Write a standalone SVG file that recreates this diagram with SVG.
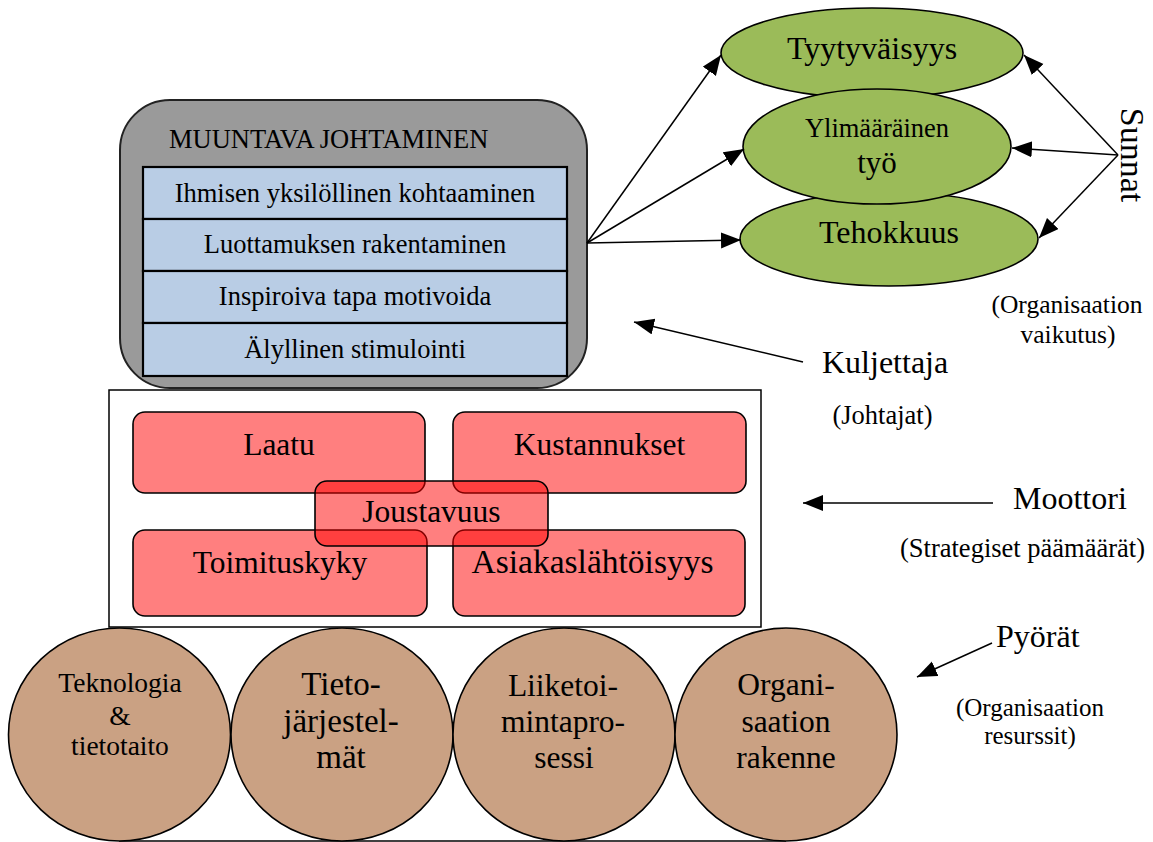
<svg xmlns="http://www.w3.org/2000/svg" width="1153" height="842" viewBox="0 0 1153 842">
  <defs>
    <marker id="head" markerUnits="userSpaceOnUse" markerWidth="22" markerHeight="18" refX="20" refY="8" orient="auto">
      <path d="M0,0 L20,8 L0,16 z" fill="#000"/>
    </marker>
    <style>
      text { font-family: "Liberation Serif", "Times New Roman", serif; fill: #000; }
      .c { text-anchor: middle; }
      .lead { fill: #9a9a9a; stroke: #222; stroke-width: 2; }
      .row { fill: #b9cde5; stroke: #000; stroke-width: 2.2; }
      .goal { fill: #9bbb59; stroke: #000; stroke-width: 1.6; }
      .frame { fill: #fff; stroke: #000; stroke-width: 1.5; }
      .aim { fill: #ff0000; fill-opacity: 0.5; stroke: #000; stroke-width: 1.6; }
      .wheel { fill: #caa183; stroke: #000; stroke-width: 1.6; }
      .conn { stroke: #000; stroke-width: 1.5; fill: none; marker-end: url(#head); }
    </style>
  </defs>

  <!-- Leadership block -->
  <g id="muuntava-johtaminen">
    <rect class="lead" x="120" y="100" width="467" height="288" rx="50"/>
    <text x="169" y="148" font-size="26.5">MUUNTAVA JOHTAMINEN</text>
    <rect class="row" x="143" y="167" width="424" height="52"/>
    <rect class="row" x="143" y="219" width="424" height="52"/>
    <rect class="row" x="143" y="271" width="424" height="52"/>
    <rect class="row" x="143" y="323" width="424" height="53"/>
    <text class="c" x="355" y="202" font-size="26.5">Ihmisen yksilöllinen kohtaaminen</text>
    <text class="c" x="355" y="253" font-size="26.5">Luottamuksen rakentaminen</text>
    <text class="c" x="355" y="305" font-size="26.5">Inspiroiva tapa motivoida</text>
    <text class="c" x="355" y="358" font-size="26.5">Älyllinen stimulointi</text>
  </g>

  <!-- Outcomes -->
  <g id="tyytyvaisyys">
    <ellipse class="goal" cx="872" cy="53" rx="151" ry="45"/>
    <text class="c" x="872" y="59" font-size="32">Tyytyväisyys</text>
  </g>
  <g id="tehokkuus">
    <ellipse class="goal" cx="889" cy="239" rx="149" ry="47"/>
    <text class="c" x="889" y="243" font-size="32">Tehokkuus</text>
  </g>
  <g id="ylimaarainen-tyo">
    <ellipse class="goal" cx="877" cy="146.5" rx="134" ry="57.5"/>
    <text class="c" x="877" y="137" font-size="26.5">Ylimääräinen</text>
    <text class="c" x="877" y="173" font-size="31">työ</text>
  </g>

  <!-- Strategic goals -->
  <g id="strategiset-tavoitteet">
    <rect class="frame" x="109" y="390" width="652" height="237"/>
    <g id="laatu">
      <rect class="aim" x="133" y="412" width="292" height="81" rx="12"/>
      <text class="c" x="279" y="455" font-size="31.5">Laatu</text>
    </g>
    <g id="kustannukset">
      <rect class="aim" x="453" y="412" width="293" height="81" rx="12"/>
      <text class="c" x="599.5" y="455" font-size="31.5">Kustannukset</text>
    </g>
    <g id="toimituskyky">
      <rect class="aim" x="133" y="530" width="294" height="86" rx="12"/>
      <text class="c" x="280" y="573" font-size="31.5">Toimituskyky</text>
    </g>
    <g id="asiakaslahtoisyys">
      <rect class="aim" x="453" y="530" width="292" height="86" rx="12"/>
      <text class="c" x="592.5" y="573" font-size="33.5">Asiakaslähtöisyys</text>
    </g>
    <g id="joustavuus">
      <rect class="aim" x="315" y="481" width="233" height="65" rx="12"/>
      <text class="c" x="431.5" y="522" font-size="31.5">Joustavuus</text>
    </g>
  </g>

  <!-- Resources (wheels) -->
  <line x1="119" y1="841" x2="786" y2="841" stroke="#000" stroke-width="1.5"/>
  <g id="teknologia">
    <ellipse class="wheel" cx="119.5" cy="734.5" rx="111" ry="106.5"/>
    <text class="c" x="120" y="692" font-size="27.5">Teknologia</text>
    <text class="c" x="120" y="725" font-size="27.5">&amp;</text>
    <text class="c" x="120" y="755" font-size="27.5">tietotaito</text>
  </g>
  <g id="tietojarjestelmat">
    <ellipse class="wheel" cx="342" cy="734.5" rx="111" ry="106.5"/>
    <text class="c" x="341" y="695" font-size="33">Tieto-</text>
    <text class="c" x="341" y="732" font-size="33">järjestel-</text>
    <text class="c" x="341" y="768" font-size="33">mät</text>
  </g>
  <g id="liiketoimintaprosessi">
    <ellipse class="wheel" cx="564" cy="734.5" rx="111" ry="106.5"/>
    <text class="c" x="563" y="696" font-size="31.5">Liiketoi-</text>
    <text class="c" x="563" y="732" font-size="31.5">mintapro-</text>
    <text class="c" x="564" y="768" font-size="31.5">sessi</text>
  </g>
  <g id="organisaation-rakenne">
    <ellipse class="wheel" cx="786" cy="734.5" rx="111" ry="106.5"/>
    <text class="c" x="786" y="695" font-size="31.5">Organi-</text>
    <text class="c" x="786" y="732" font-size="31.5">saation</text>
    <text class="c" x="786" y="768" font-size="31.5">rakenne</text>
  </g>

  <!-- Side labels -->
  <g id="sunnat">
    <text class="c" transform="translate(1121,155) rotate(90)" font-size="34">Sunnat</text>
    <text class="c" x="1067" y="313" font-size="25.5">(Organisaation</text>
    <text class="c" x="1068" y="343" font-size="25.5">vaikutus)</text>
  </g>
  <g id="kuljettaja">
    <text x="822" y="373" font-size="32">Kuljettaja</text>
    <text class="c" x="882.5" y="424" font-size="26.5">(Johtajat)</text>
  </g>
  <g id="moottori">
    <text x="1013" y="509" font-size="32">Moottori</text>
    <text class="c" x="1022.5" y="557" font-size="26.5">(Strategiset päämäärät)</text>
  </g>
  <g id="pyorat">
    <text x="996" y="647" font-size="32">Pyörät</text>
    <text class="c" x="1030" y="716" font-size="25">(Organisaation</text>
    <text class="c" x="1030" y="744" font-size="25">resurssit)</text>
  </g>

  <!-- Connectors -->
  <g id="connectors">
    <line class="conn" x1="587" y1="243" x2="721" y2="55"/>
    <line class="conn" x1="587" y1="243" x2="744" y2="149"/>
    <line class="conn" x1="587" y1="243" x2="741" y2="240"/>
    <line class="conn" x1="1118" y1="155" x2="1024" y2="55"/>
    <line class="conn" x1="1118" y1="155" x2="1012" y2="148"/>
    <line class="conn" x1="1118" y1="155" x2="1039" y2="238"/>
    <line class="conn" x1="803" y1="362" x2="634" y2="322"/>
    <line class="conn" x1="993" y1="503" x2="803" y2="503"/>
    <line class="conn" x1="992" y1="643" x2="917" y2="677"/>
  </g>
</svg>
